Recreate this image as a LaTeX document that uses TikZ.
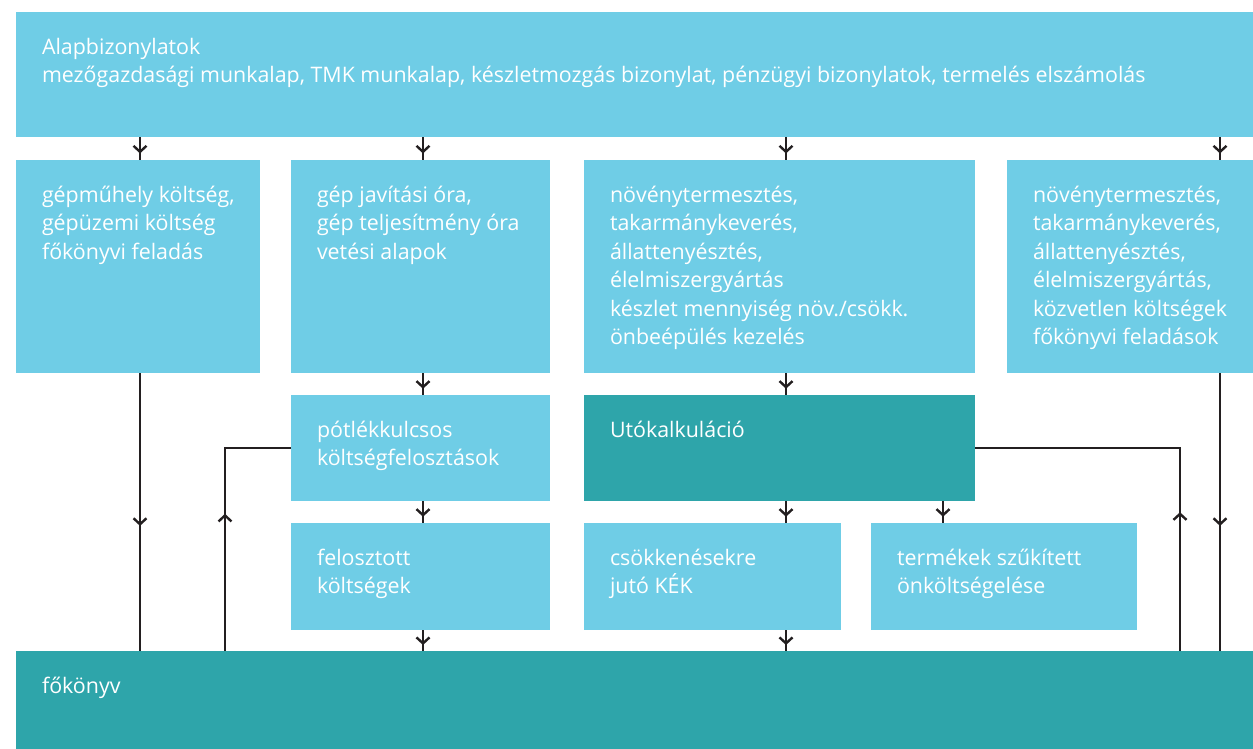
\documentclass[tikz,border=0pt]{standalone}
\usepackage{fontspec}
\setmainfont{Open Sans}
\usetikzlibrary{arrows.meta}
\usetikzlibrary{decorations.markings}
\definecolor{lightbox}{HTML}{6FCDE6}
\definecolor{tealbox}{HTML}{2EA5AA}
\definecolor{linegray}{HTML}{231F20}

\begin{document}
\begin{tikzpicture}[x=1pt,y=-1pt,
	flow/.style = {draw=linegray, line width=2.6pt, postaction={decorate},
		decoration={markings, mark=at position #1 with {\arrow{Straight Barb[length=6pt,width=13pt,line width=2.4pt]}}}},
	flow/.default = 0.55,
	txt/.style = {anchor=north west, align=left, text=white, inner sep=0pt, xshift=26pt, yshift=-26pt,
		font=\fontsize{21.4}{28.5}\selectfont}]
				\useasboundingbox (0,0) rectangle (1253,749);
				\begin{scope}[every node/.style={draw=none, inner sep=0pt}]
					\node[fill=lightbox, minimum width=1237pt, minimum height=125pt, label={[txt]north west:{Alapbizonylatok\\mezőgazdasági munkalap, TMK munkalap, készletmozgás bizonylat, pénzügyi bizonylatok, termelés elszámolás}}] (alap) at (634.5,74.5) {};
					\node[fill=lightbox, minimum width=244pt, minimum height=213pt, label={[txt]north west:{gépműhely költség,\\gépüzemi költség\\főkönyvi feladás}}] (gepmuhely) at (138,266.5) {};
					\node[fill=lightbox, minimum width=259pt, minimum height=213pt, label={[txt]north west:{gép javítási óra,\\gép teljesítmény óra\\vetési alapok}}] (gepora) at (420.5,266.5) {};
					\node[fill=lightbox, minimum width=391pt, minimum height=213pt, label={[txt]north west:{növénytermesztés,\\takarmánykeverés,\\állattenyésztés,\\élelmiszergyártás\\készlet mennyiség növ./csökk.\\önbeépülés kezelés}}] (agazat) at (779.5,266.5) {};
					\node[fill=lightbox, minimum width=246pt, minimum height=213pt, label={[txt]north west:{növénytermesztés,\\takarmánykeverés,\\állattenyésztés,\\élelmiszergyártás,\\közvetlen költségek\\főkönyvi feladások}}] (kozvetlen) at (1130,266.5) {};
					\node[fill=lightbox, minimum width=259pt, minimum height=106pt, label={[txt]north west:{pótlékkulcsos\\költségfelosztások}}] (potlek) at (420.5,448) {};
					\node[fill=tealbox, minimum width=391pt, minimum height=106pt, label={[txt]north west:{Utókalkuláció}}] (utokalk) at (779.5,448) {};
					\node[fill=lightbox, minimum width=259pt, minimum height=107pt, label={[txt]north west:{felosztott\\költségek}}] (felosztott) at (420.5,576.5) {};
					\node[fill=lightbox, minimum width=257pt, minimum height=107pt, label={[txt]north west:{csökkenésekre\\jutó KÉK}}] (kek) at (712.5,576.5) {};
					\node[fill=lightbox, minimum width=266pt, minimum height=107pt, label={[txt]north west:{termékek szűkített\\önköltségelése}}] (termekek) at (1004,576.5) {};
					\node[fill=tealbox, minimum width=1237pt, minimum height=98pt, label={[txt]north west:{főkönyv}}] (fokonyv) at (634.5,700) {};
				\end{scope}
				\coordinate (c1) at (140,0);
				\coordinate (c2) at (423,0);
				\coordinate (c3) at (786,0);
				\coordinate (c4) at (943,0);
				\coordinate (c5) at (1220,0);
				\coordinate (cl) at (225,0);
				\coordinate (cr) at (1180,0);
				\draw[flow=0.72] (alap.south -| c1) -- (gepmuhely.north -| c1);
				\draw[flow=0.72] (alap.south -| c2) -- (gepora.north -| c2);
				\draw[flow=0.72] (alap.south -| c3) -- (agazat.north -| c3);
				\draw[flow=0.72] (alap.south -| c5) -- (kozvetlen.north -| c5);
				\draw[flow=0.72] (gepora.south -| c2) -- (potlek.north -| c2);
				\draw[flow=0.72] (agazat.south -| c3) -- (utokalk.north -| c3);
				\draw[flow=0.72] (potlek.south -| c2) -- (felosztott.north -| c2);
				\draw[flow=0.72] (utokalk.south -| c3) -- (kek.north -| c3);
				\draw[flow=0.72] (utokalk.south -| c4) -- (termekek.north -| c4);
				\draw[flow=0.72] (felosztott.south -| c2) -- (fokonyv.north -| c2);
				\draw[flow=0.72] (kek.south -| c3) -- (fokonyv.north -| c3);
				\draw[flow] (gepmuhely.south -| c1) -- (fokonyv.north -| c1);
				\draw[flow] (kozvetlen.south -| c5) -- (fokonyv.north -| c5);
				\draw[flow=0.51] (fokonyv.north -| cl) -- (cl |- potlek.west) -- (potlek.west);
				\draw[flow=0.34] (fokonyv.north -| cr) -- (cr |- utokalk.east) -- (utokalk.east);
			\end{tikzpicture}
\end{document}
